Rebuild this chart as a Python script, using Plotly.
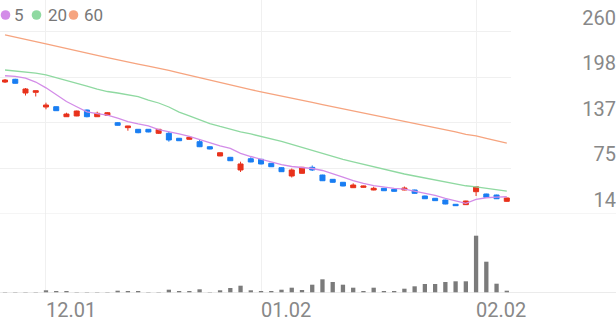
import plotly.graph_objects as go

# ---------------- data ----------------
x_idx = list(range(50))
tick_idx = [4, 25, 46]
tick_labels = ["12.01", "01.02", "02.02"]

opens = [192.1,195.8,177.3,178.2,158.4,158.8,145.3,146.3,154.3,145.3,147.2,137.2,130.5,128.3,128.3,122.9,122.9,116.2,114.8,111.6,
         104.8,92.3,90.5,73.4,88.6,87.8,82.4,76.5,65.3,68.9,77.0,66.6,60.8,56.8,49.5,50.0,46.4,48.7,47.3,46.4,
         46.4,38.3,35.2,32.9,27.1,26.6,44.1,41.0,39.6,31.1]
closes = [194.8,190.4,182.7,180.4,161.1,153.4,148.9,153.0,145.3,149.9,150.7,133.7,132.8,123.7,124.7,128.3,113.9,112.9,117.5,104.8,
          101.7,96.7,85.9,81.5,84.2,81.5,77.8,71.1,73.4,77.0,73.4,58.9,56.8,51.8,53.1,51.8,48.7,45.4,44.6,49.1,
          41.9,34.6,32.0,27.5,25.2,31.5,50.8,36.5,34.6,35.6]
highs = [196.2,196.5,184.0,180.6,164.2,159.2,150.7,153.5,155.0,152.1,151.5,137.8,133.0,128.7,128.7,128.7,125.1,116.6,119.3,114.8,
         105.2,97.1,91.0,84.6,90.5,88.2,82.8,77.0,75.4,77.5,79.5,67.0,61.2,57.2,55.4,52.2,50.8,49.1,47.7,51.1,
         46.8,38.7,35.6,33.3,27.5,31.9,51.2,41.4,40.0,36.0]
lows = [190.8,190.0,173.9,172.6,155.3,153.0,145.0,146.0,144.5,145.0,146.8,133.3,126.4,123.0,124.3,122.0,111.6,112.5,114.4,104.3,
        101.3,92.0,85.5,70.7,83.8,81.0,77.4,70.7,63.3,68.5,72.0,58.5,56.4,51.4,49.1,49.6,46.0,45.0,44.2,46.0,
        41.5,34.2,31.6,27.1,24.8,26.2,38.3,36.1,34.2,30.7]

ma5 = [200.6,199.7,197.3,192.1,184.3,175.3,165.8,158.7,151.9,149.6,147.3,143.3,138.8,135.5,133.0,128.0,125.3,122.0,118.6,114.1,
       109.8,105.8,102.5,95.8,91.6,87.8,84.2,80.7,78.1,76.8,75.4,72.7,68.7,63.9,59.2,55.2,52.3,50.0,48.7,47.5,
       44.6,42.3,39.0,35.2,31.5,28.4,33.6,35.9,36.7,37.3]
ma20 = [208.3,207.0,205.4,204.0,201.9,198.3,194.8,190.8,186.6,182.6,179.3,177.3,175.3,172.3,167.8,163.8,158.4,151.6,146.3,140.9,
        136.1,132.1,128.0,124.9,122.0,119.0,115.2,112.1,108.1,104.0,99.7,95.6,91.5,87.8,84.4,81.1,77.8,74.5,70.8,68.0,
        65.3,62.6,59.9,56.9,54.2,52.1,50.7,48.8,46.8,45.0]
ma60 = [255.6,252.9,249.8,246.7,243.5,240.6,237.5,234.2,231.0,228.0,224.9,221.7,218.9,216.3,213.6,211.0,207.8,204.6,201.2,197.8,
        194.6,191.3,188.0,185.0,181.9,178.8,175.8,172.6,169.7,167.2,164.5,161.6,158.8,156.0,153.1,150.3,147.5,144.6,141.9,139.1,
        136.3,133.6,130.7,127.9,124.7,121.4,119.3,115.9,112.5,109.6]

volumes = [10,10,10,10,27,17,17,10,7,7,7,23,17,17,10,10,33,17,17,37,
           10,27,50,73,27,17,17,33,53,30,83,137,110,83,53,20,53,13,13,43,
           67,90,90,110,117,117,573,313,93,23]

price_ticks = [14, 75.5, 137, 198.5, 260]
price_tick_labels = ["14", "75", "137", "198", "260"]

ma_names = ["5", "20", "60"]
ma_colors = ["#d38ce8", "#8fd9a1", "#f6a47f"]

RED = "#e8321c"
BLUE = "#1a7ef2"
GRID = "#f0f0f0"
FONT = "Roboto"

# ---------------- figure ----------------
fig = go.Figure()

for vals, col in zip([ma60, ma20, ma5], [ma_colors[2], ma_colors[1], ma_colors[0]]):
    fig.add_trace(go.Scatter(x=x_idx, y=vals, mode="lines", line=dict(color=col, width=1.3),
                             showlegend=False, hoverinfo="skip", xaxis="x", yaxis="y"))

fig.add_trace(go.Candlestick(
    x=x_idx, open=opens, high=highs, low=lows, close=closes,
    increasing=dict(line=dict(color=RED, width=1), fillcolor=RED),
    decreasing=dict(line=dict(color=BLUE, width=1), fillcolor=BLUE),
    whiskerwidth=0, showlegend=False, xaxis="x", yaxis="y"))

fig.add_trace(go.Bar(x=x_idx, y=volumes, marker=dict(color="#7b7b7b", line=dict(width=0)),
                     width=0.42, showlegend=False, xaxis="x2", yaxis="y2"))

W, H = 616, 321
B = 28
plot_h = H - B
price_bottom_px = 214
split = (plot_h - price_bottom_px) / plot_h
x_right = 511 / W

xr = [-0.49, 49.41]
fig.update_layout(
    template="none",
    width=W, height=H, autosize=False,
    margin=dict(l=0, r=0, t=0, b=B, pad=0, autoexpand=False),
    paper_bgcolor="white", plot_bgcolor="white",
    font=dict(family=FONT, color="#888"),
    showlegend=False,
    xaxis=dict(domain=[0, x_right], range=xr, anchor="y", showgrid=True, gridcolor=GRID, gridwidth=1,
               tickvals=tick_idx, showticklabels=False, zeroline=False, showline=False, ticks="",
               rangeslider=dict(visible=False), automargin=False),
    xaxis2=dict(domain=[0, x_right], range=xr, anchor="y2", showgrid=True, gridcolor=GRID, gridwidth=1,
                tickvals=tick_idx, ticktext=tick_labels, ticklabelposition="outside right",
                ticklabelstandoff=3,
                tickfont=dict(size=20, color="#888", family=FONT), zeroline=False, showline=False,
                ticks="", automargin=False),
    yaxis=dict(domain=[split, 1], range=[14, 14 + price_bottom_px / 0.741], anchor="free", position=1,
               side="left", tickvals=price_ticks, ticktext=price_tick_labels, ticklabelshift=-14,
               tickfont=dict(size=20, color="#888", family=FONT), showgrid=True, gridcolor=GRID,
               zeroline=False, showline=False, ticks="", automargin=False),
    yaxis2=dict(domain=[0, split], range=[0, 790], anchor="x2", showticklabels=False, showgrid=False,
                zeroline=False, showline=False, ticks="", automargin=False),
)

shapes = [
    dict(type="line", xref="paper", yref="y", x0=0, x1=1, y0=14, y1=14, line=dict(color="#ebebeb", width=1)),
    dict(type="line", xref="paper", yref="y2", x0=0, x1=1, y0=0, y1=0, line=dict(color="#e4e4e4", width=1.5)),
]
# legend: dots + labels
leg_cx = [5.5, 36.5, 73.5]
leg_tx = [11.5, 45.5, 82.0]
cy = (plot_h - 15) / plot_h
r = 4.8
annotations = []
for name, col, cx, tx in zip(ma_names, ma_colors, leg_cx, leg_tx):
    shapes.append(dict(type="circle", xref="paper", yref="paper",
                       x0=(cx - r) / W, x1=(cx + r) / W, y0=cy - r / plot_h, y1=cy + r / plot_h,
                       fillcolor=col, line=dict(width=0)))
    annotations.append(dict(text=name, xref="paper", yref="paper", x=tx / W, y=cy, xanchor="left",
                            yanchor="middle", showarrow=False, font=dict(size=17, color="#777", family=FONT)))
fig.update_layout(shapes=shapes, annotations=annotations)

css_fix = ("document.documentElement.style.margin='0';document.documentElement.style.overflow='hidden';"
           "document.body.style.margin='0';document.body.style.overflow='hidden';")
fig.write_html("out.html", config={"responsive": False, "displayModeBar": False}, post_script=css_fix)
